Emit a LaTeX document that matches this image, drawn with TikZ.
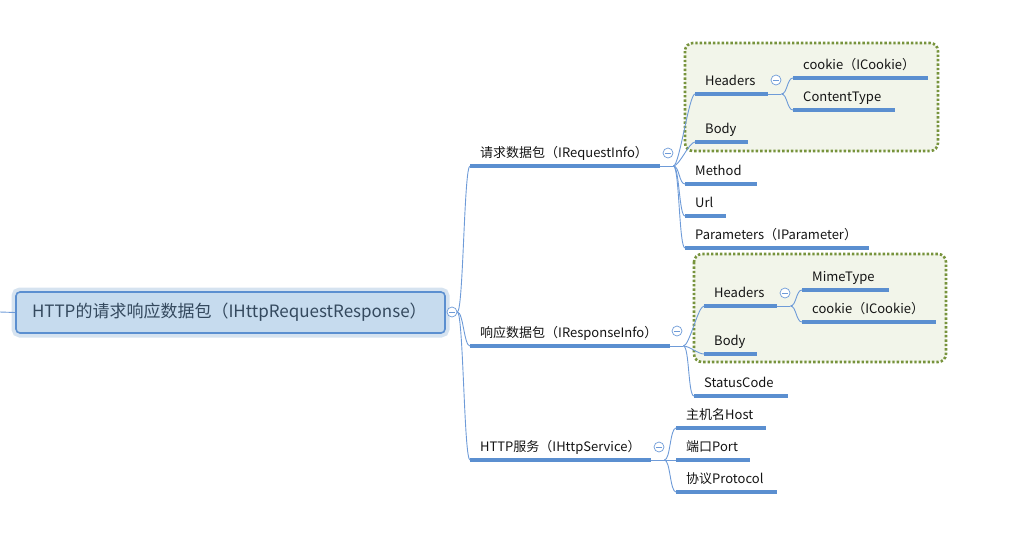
\documentclass[tikz,border=0pt]{standalone}
\usepackage{fontspec}
\setmainfont{Noto Sans CJK SC}
\definecolor{lineblue}{HTML}{5B8FD0}
\definecolor{linkblue}{HTML}{6E9BD8}
\definecolor{rootfill}{HTML}{C6DBEE}
\definecolor{rootglow}{HTML}{D6E3F0}
\definecolor{boxgreen}{HTML}{77933C}
\definecolor{boxfill}{HTML}{F2F5EA}
\definecolor{textdark}{HTML}{141414}
\definecolor{roottext}{HTML}{34495E}
\begin{document}
\begin{tikzpicture}[x=1pt,y=-1pt,
    topic/.style={anchor=south west, inner xsep=10pt, inner ysep=8.5pt, text depth=0pt,
      align=left, text=textdark, font=\fontsize{13}{15}\selectfont, text width=#1},
    link/.style={draw=linkblue, line width=0.9pt},
    under/.style={draw=lineblue, line width=3.2pt},
    branch/.style={link, to path={.. controls +(6,0) and +(-6,0) .. (\tikztotarget)}},
    fold/.style={circle, draw=linkblue, fill=white, line width=0.7pt, minimum size=10pt, inner sep=0pt,
      path picture={\draw[linkblue, line width=0.7pt] ([xshift=-3pt]path picture bounding box.center)
        -- ([xshift=3pt]path picture bounding box.center);}},
    groupbox/.style={draw=boxgreen, fill=boxfill, line width=2.6pt, rounded corners=8pt,
      dash pattern=on 2.4pt off 2pt}]
  \useasboundingbox (0,0) rectangle (1030,550);

  \draw[groupbox] (685,43) rectangle (938,151);
  \draw[groupbox] (694,254) rectangle (946,362);

  \node[draw=lineblue, fill=rootfill, line width=1.6pt, rounded corners=4pt,
    preaction={draw=rootglow, line width=9pt},
    minimum height=41pt, inner xsep=16pt, text width=397pt, align=left,
    text=roottext, font=\fontsize{17}{20}\selectfont] (root) at (230.5,312.5)
    {HTTP的请求响应数据包（IHttpRequestResponse）};
  \node[fold] (rootfold) at (452,312) {};
  \coordinate (left) at (0,312);

  \node[topic=170pt] (req)  at (470,166) {请求数据包（IRequestInfo）};
  \node[topic=180pt] (resp) at (470,346) {响应数据包（IResponseInfo）};
  \node[topic=161pt] (svc)  at (470,460) {HTTP服务（IHttpService）};

  \node[topic=53pt]  (reqhead)   at (695,94)  {Headers};
  \node[topic=33pt]  (reqbody)   at (695,142) {Body};
  \node[topic=52pt]  (method)    at (685,184) {Method};
  \node[topic=21pt]  (url)       at (685,216) {Url};
  \node[topic=164pt] (params)    at (685,248) {Parameters（IParameter）};
  \node[topic=115pt] (reqcookie) at (793,78)  {cookie（ICookie）};
  \node[topic=82pt]  (reqct)     at (793,110) {ContentType};

  \node[topic=53pt]  (resphead)   at (704,306) {Headers};
  \node[topic=33pt]  (respbody)   at (704,354) {Body};
  \node[topic=74pt]  (status)     at (694,396) {StatusCode};
  \node[topic=67pt]  (mime)       at (802,290) {MimeType};
  \node[topic=114pt] (respcookie) at (802,322) {cookie（ICookie）};

  \node[topic=70pt] (host)  at (676,428) {主机名Host};
  \node[topic=54pt] (port)  at (676,460) {端口Port};
  \node[topic=81pt] (proto) at (676,492) {协议Protocol};

  \foreach \n in {req,resp,svc,reqhead,reqbody,method,url,params,reqcookie,reqct,
      resphead,respbody,status,mime,respcookie,host,port,proto}
    \draw[under] (\n.south west) -- (\n.south east);

  \draw[link] (left) -- (root.west);
  \draw[branch] (rootfold.east) to (req.south west);
  \draw[branch] (rootfold.east) to (resp.south west);
  \draw[branch] (rootfold.east) to (svc.south west);

  \draw[link] (req.south east) -- ++(13,0) coordinate (reqhub);
  \draw[branch] (reqhub) to (reqhead.south west);
  \draw[branch] (reqhub) to (reqbody.south west);
  \draw[branch] (reqhub) to (method.south west);
  \draw[branch] (reqhub) to (url.south west);
  \draw[branch] (reqhub) to (params.south west);

  \draw[link] (reqhead.south east) -- ++(13,0) coordinate (reqheadhub);
  \draw[branch] (reqheadhub) to (reqcookie.south west);
  \draw[branch] (reqheadhub) to (reqct.south west);

  \draw[link] (resp.south east) -- ++(13,0) coordinate (resphub);
  \draw[branch] (resphub) to (resphead.south west);
  \draw[branch] (resphub) to (respbody.south west);
  \draw[branch] (resphub) to (status.south west);

  \draw[link] (resphead.south east) -- ++(13,0) coordinate (respheadhub);
  \draw[branch] (respheadhub) to (mime.south west);
  \draw[branch] (respheadhub) to (respcookie.south west);

  \draw[link] (svc.south east) -- ++(13,0) coordinate (svchub);
  \draw[branch] (svchub) to (host.south west);
  \draw[branch] (svchub) to (port.south west);
  \draw[branch] (svchub) to (proto.south west);

  \node[fold] (reqfold)      at (668,153) {};
  \node[fold] (respfold)     at (677,331) {};
  \node[fold] (svcfold)      at (659,447) {};
  \node[fold] (reqheadfold)  at (776,80)  {};
  \node[fold] (respheadfold) at (785,293) {};
\end{tikzpicture}
\end{document}
